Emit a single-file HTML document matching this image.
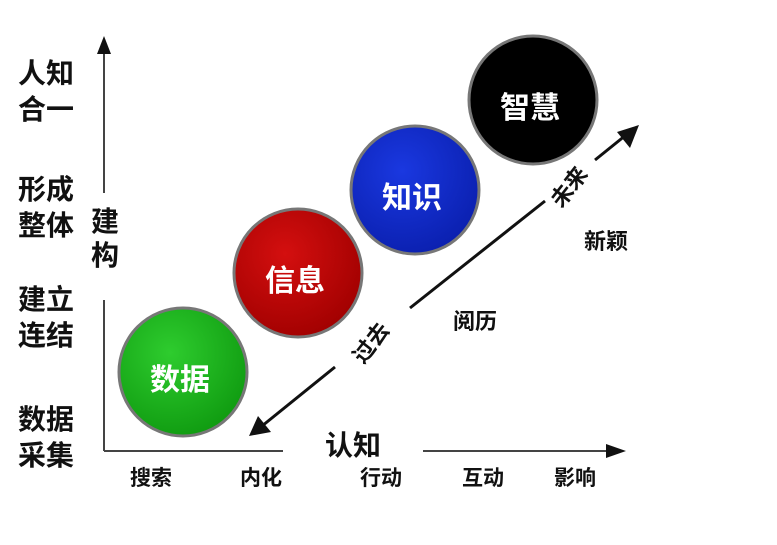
<!DOCTYPE html>
<html><head><meta charset="utf-8"><style>
body{margin:0;background:#fff;}
.c{position:absolute;width:777px;height:545px;left:0;top:0;overflow:hidden;font-family:"Liberation Sans","Noto Sans CJK SC",sans-serif;font-weight:bold;color:#111;}
.t{position:absolute;white-space:nowrap;}
.l{font-size:28px;line-height:36px;left:18px;}
.b{font-size:21px;top:462px;}
</style></head><body><div class="c">
<svg width="777" height="545" style="position:absolute;left:0;top:0">
<defs>
<radialGradient id="g" cx="40%" cy="35%" r="70%"><stop offset="0" stop-color="#2ecc2e"/><stop offset="1" stop-color="#0f9a10"/></radialGradient>
<radialGradient id="r" cx="40%" cy="35%" r="70%"><stop offset="0" stop-color="#d40f0f"/><stop offset="1" stop-color="#a00000"/></radialGradient>
<radialGradient id="bl" cx="40%" cy="35%" r="70%"><stop offset="0" stop-color="#1a38e0"/><stop offset="1" stop-color="#0a1fae"/></radialGradient>
</defs>
<g stroke="#444" stroke-width="2">
<line x1="104" y1="50" x2="104" y2="193"/><line x1="104" y1="300" x2="104" y2="451"/>
<line x1="104" y1="451" x2="283" y2="451"/><line x1="423" y1="451" x2="608" y2="451"/>
</g>
<polygon points="104,36 97,54 111,54" fill="#111"/>
<polygon points="626,451 606,444 606,458" fill="#111"/>
<g stroke="#111" stroke-width="3">
<line x1="262" y1="426" x2="335" y2="367"/><line x1="410" y1="308" x2="545" y2="201"/><line x1="595" y1="160" x2="626" y2="135"/>
</g>
<polygon points="249,436 258,416 271,432" fill="#111"/>
<polygon points="639,125 617,132 630,148" fill="#111"/>
<g stroke="#777" stroke-width="3">
<circle cx="183" cy="372" r="64" fill="url(#g)"/>
<circle cx="298" cy="273" r="64" fill="url(#r)"/>
<circle cx="415" cy="190" r="64" fill="url(#bl)"/>
<circle cx="533" cy="100" r="64" fill="#000"/>
</g>
</svg>
<div class="t" style="left:150px;top:355px;font-size:30px;color:#fff">数据</div>
<div class="t" style="left:265px;top:256px;font-size:30px;color:#fff">信息</div>
<div class="t" style="left:382px;top:173px;font-size:30px;color:#fff">知识</div>
<div class="t" style="left:500px;top:83px;font-size:30px;color:#fff">智慧</div>
<div class="t l" style="top:56px">人知<br>合一</div>
<div class="t l" style="top:172px">形成<br>整体</div>
<div class="t l" style="top:282px">建立<br>连结</div>
<div class="t l" style="top:402px">数据<br>采集</div>
<div class="t" style="left:91px;top:205px;font-size:28px;line-height:34px">建<br>构</div>
<div class="t" style="left:325px;top:424px;font-size:28px">认知</div>
<div class="t b" style="left:130px">搜索</div>
<div class="t b" style="left:240px">内化</div>
<div class="t b" style="left:360px">行动</div>
<div class="t b" style="left:462px">互动</div>
<div class="t b" style="left:554px">影响</div>
<div class="t" style="left:584px;top:224px;font-size:22px">新颖</div>
<div class="t" style="left:453px;top:304px;font-size:22px">阅历</div>
<div class="t" style="left:348px;top:326px;font-size:22px;transform:rotate(-52deg)">过去</div>
<div class="t" style="left:546px;top:170px;font-size:22px;transform:rotate(-52deg)">未来</div>
</div></body></html>
